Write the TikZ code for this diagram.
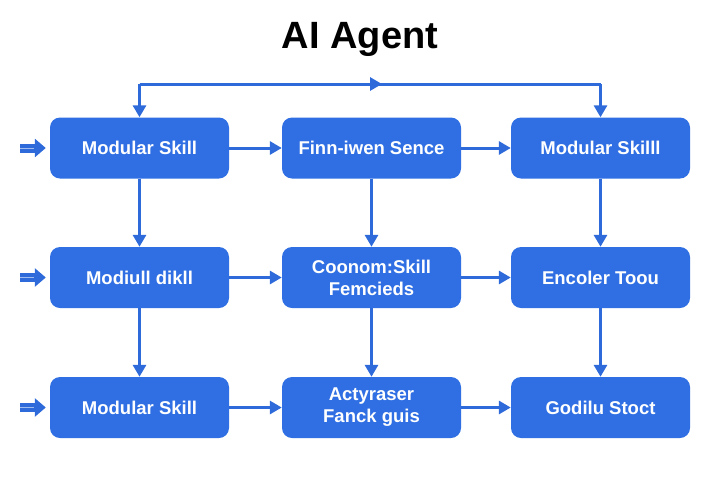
\documentclass[tikz,border=0pt]{standalone}
\usepackage{fontspec}
\setmainfont{Liberation Sans}
\usetikzlibrary{arrows.meta}
\definecolor{boxblue}{RGB}{47,111,227}
\definecolor{lineblue}{RGB}{46,106,217}
\tikzset{
  skillbox/.style={draw=none, fill=boxblue, rounded corners=10pt, minimum width=179pt, minimum height=61pt,
    text=white, font=\fontsize{18.5}{22}\selectfont\bfseries, align=center, inner sep=0pt},
  conn/.style={draw=lineblue, line width=3pt, -{Triangle[length=12pt,width=13pt]}},
  plainconn/.style={draw=lineblue, line width=3pt},
  inarrow/.style={draw=lineblue, line width=9pt, -{Triangle[length=11pt,width=18pt]}},
  inline/.style={draw=white!55!lineblue, line width=1pt},
}
\begin{document}
\begin{tikzpicture}[x=1pt,y=-1pt]
\useasboundingbox (0,0) rectangle (720,480);
\node[font=\fontsize{38}{44}\selectfont\bfseries] (title) at (360,39) {AI Agent};

\node[skillbox] (a1) at (139.5,148) {Modular Skill};
\node[skillbox] (a2) at (371.5,148) {Finn-iwen Sence};
\node[skillbox] (a3) at (600.5,148) {Modular Skilll};
\node[skillbox] (b1) at (139.5,277.5) {Modiull dikll};
\node[skillbox] (b2) at (371.5,277.5) {Coonom:Skill\\Femcieds};
\node[skillbox] (b3) at (600.5,277.5) {Encoler Toou};
\node[skillbox] (c1) at (139.5,407.5) {Modular Skill};
\node[skillbox] (c2) at (371.5,407.5) {Actyraser\\Fanck guis};
\node[skillbox] (c3) at (600.5,407.5) {Godilu Stoct};

% top loop
\coordinate (tl) at (139.5,84);
\coordinate (tm) at (382,84);
\coordinate (tr) at (600.5,84);
\draw[plainconn] (tl) -- (tr);
\draw[conn] (tl) -- (a1.north);
\draw[conn] (tr) -- (a3.north);
\draw[conn] (tl) -- (tm);

% horizontal
\foreach \r in {a,b,c}{
  \draw[conn] (\r1) -- (\r2);
  \draw[conn] (\r2) -- (\r3);
}
% vertical
\foreach \c in {1,2,3}{
  \draw[conn] (a\c) -- (b\c);
  \draw[conn] (b\c) -- (c\c);
}
% inputs
\foreach \r in {a,b,c}{
  \coordinate (in\r) at (20,0 |- \r1.west);
  \draw[inarrow] (in\r) -- ([xshift=-4pt]\r1.west);
  \draw[inline] (in\r) -- ++(14,0);
}
\end{tikzpicture}
\end{document}
